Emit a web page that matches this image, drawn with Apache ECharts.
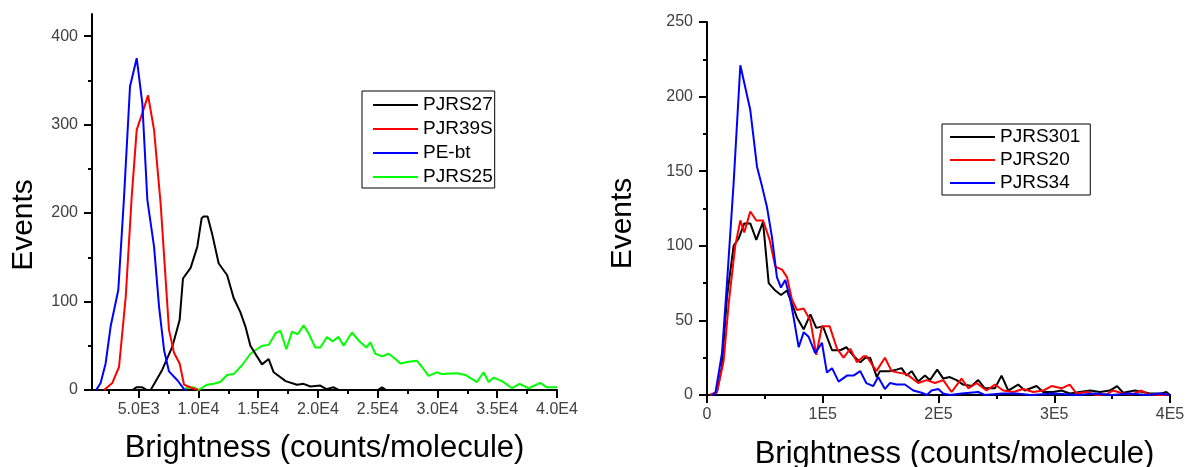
<!DOCTYPE html>
<html>
<head>
<meta charset="utf-8">
<script src="https://cdn.jsdelivr.net/npm/echarts@6/dist/echarts.min.js"></script>
<style>
html, body { margin: 0; padding: 0; background: #fff; }
#chart { width: 1186px; height: 467px; }
</style>
</head>
<body>
<div id="chart"></div>
<script>
// left panel: [brightness, events]
const pjrs27 = [[3600,0],[4500,0],[4800,3],[5300,3],[5700,0],[6010,0],[6980,23],[7820,49],[8430,79],[8710,126],[9350,138],[9910,162],[10270,194],[10440,196],[10770,196],[11140,177],[11700,143],[12400,130],[12950,104],[13510,88],[13930,72],[14350,50],[14900,38],[15320,29],[15880,35],[16300,20],[17300,10],[18250,6],[18800,7],[19370,4],[20200,5],[20700,1],[21310,3],[21730,0],[25000,0],[25360,3],[25700,0]];
const pjr39s = [[2100,0],[2800,8],[3360,26],[3920,105],[4420,218],[4840,294],[5310,313],[5790,333],[6290,294],[6840,211],[7540,68],[7960,42],[8430,30],[8800,6],[9500,2],[10000,0]];
const peBt = [[1450,0],[1820,8],[2240,30],[2660,72],[3300,113],[3780,218],[4280,343],[4840,375],[5310,324],[5730,215],[6290,162],[6710,94],[7130,45],[7540,21],[8240,11],[8800,1],[9000,0]];
const pjrs25 = [[8900,2],[9600,3],[10020,0],[10720,6],[11280,7],[11840,9],[12400,17],[12950,18],[13650,28],[14350,41],[15320,50],[15880,51],[16440,64],[16860,67],[17360,46],[17830,66],[18300,63],[18810,73],[19220,64],[19780,48],[20200,48],[20760,60],[21230,55],[21730,60],[22150,50],[22850,65],[23400,56],[24050,48],[24380,54],[24800,41],[25360,38],[25920,41],[26480,35],[26890,30],[27590,32],[28290,33],[28710,26],[29260,16],[29960,20],[30380,18],[31640,19],[32330,17],[33310,9],[33860,20],[34280,9],[34700,14],[35400,10],[36240,2],[36870,7],[37630,2],[38600,8],[39160,3],[40000,3]];

// right panel
const pjrs301 = [[2900,0],[8600,2],[12900,19],[17300,66],[23000,100],[27400,105],[32200,115],[37400,115],[42600,104],[48400,116],[53300,75],[59000,70],[63900,67],[69100,70],[73400,61],[77700,52],[83500,44],[89300,54],[94400,45],[100200,46],[108000,30],[115200,30],[120400,32],[126800,26],[132500,22],[136800,25],[140900,25],[146700,12],[149400,16],[158000,16],[163800,17],[168100,18],[172500,13],[176800,16],[182500,9],[188300,13],[192600,10],[198900,17],[204100,11],[209800,12],[215600,10],[221300,7],[228500,6],[234300,10],[240000,4.5],[248700,4.5],[254500,13],[260200,3],[268800,7],[274600,3],[284700,6],[290400,2],[299000,2],[306300,3],[313400,1],[322100,2],[330800,3],[339400,2],[348000,3],[354300,6],[359500,1.5],[369600,3],[376800,2],[382500,1],[392600,1],[396900,2],[400000,0]];
const pjrs20 = [[2900,0],[8600,2],[14400,23],[18700,61],[24400,100],[28800,117],[32200,109],[37400,123],[42600,117],[48400,117],[54100,104],[59000,86],[64800,84],[69100,79],[73400,64],[77700,57],[83500,58],[89300,50],[94400,27],[99300,46],[106000,46],[112300,31],[118000,25],[123800,31],[129500,22],[135300,26],[137800,26],[146400,16],[153700,25],[159500,16],[165200,15],[172500,14],[182500,8],[189700,10],[196900,8],[204100,10],[211300,2],[219900,11],[225700,4.5],[232900,8],[241500,3],[248700,7],[255900,3],[264500,2],[273200,4],[281800,2],[290400,3],[297700,6],[306300,4.5],[313400,7],[319200,1],[327800,2],[336400,0],[345100,0.5],[350800,3],[359500,1],[368100,0.5],[375300,3],[381000,0.5],[391100,0],[400000,0]];
const pjrs34 = [[4300,0],[7200,1],[12950,28],[17270,75],[23000,142],[28800,221],[37400,191],[43200,153],[47500,140],[51800,126],[56100,106],[60400,79],[63900,72],[67600,77],[72000,64],[74800,52],[79200,32],[83500,42],[87800,39],[93500,28],[99300,35],[103600,15],[108000,18],[113700,9],[120900,13],[126600,13],[132400,16],[137600,8],[143600,6],[147900,12],[153700,4],[158000,8],[163800,7],[171000,7],[178200,3],[185400,1.5],[190000,0],[194000,3],[199800,4],[204000,1],[210000,0],[220000,1],[234300,2],[240000,0],[255000,1],[267000,1],[280000,0],[300000,1],[320000,0],[335000,1],[350000,0],[365000,1],[380000,0],[392000,1],[400000,0]];

// ticks
const leftXTicks = [5000,10000,15000,20000,25000,30000,35000,40000];
const leftXLabels = ['5.0E3','1.0E4','1.5E4','2.0E4','2.5E4','3.0E4','3.5E4','4.0E4'];
const leftXMinor = [2500,7500,12500,17500,22500,27500,32500,37500];
const leftYTicks = [0,100,200,300,400];
const leftYMinor = [50,150,250,350];
const rightXTicks = [0,100000,200000,300000,400000];
const rightXLabels = ['0','1E5','2E5','3E5','4E5'];
const rightXMinor = [50000,150000,250000,350000];
const rightYTicks = [0,50,100,150,200,250];
const rightYMinor = [25,75,125,175,225];

const font = 'Arial, "Liberation Sans", sans-serif';
const black = { color: '#000', width: 2 };

function mainAxis(dim, grid, min, max, ticks, labels, name, nameGap, namePad) {
  return {
    type: 'value', gridIndex: grid, position: dim === 'x' ? 'bottom' : 'left',
    min: min, max: max,
    axisLine: { show: true, onZero: false, lineStyle: black },
    axisTick: { show: true, customValues: ticks, length: 8, lineStyle: black },
    axisLabel: {
      customValues: ticks, margin: dim === 'x' ? 12 : 14, color: '#404040',
      fontSize: 16, fontFamily: font,
      formatter: v => labels ? labels[ticks.findIndex(t => Math.abs(t - v) < 1e-6)] : String(v)
    },
    splitLine: { show: false },
    name: name, nameLocation: 'middle', nameGap: nameGap, nameMoveOverlap: false,
    nameTextStyle: { fontSize: dim === 'x' ? 31 : 30, color: '#000', fontFamily: font, padding: namePad }
  };
}

function minorAxis(dim, grid, min, max, ticks) {
  return {
    type: 'value', gridIndex: grid, position: dim === 'x' ? 'bottom' : 'left',
    min: min, max: max,
    axisLine: { show: false },
    axisTick: { show: true, customValues: ticks, length: 4, lineStyle: black },
    axisLabel: { show: false },
    splitLine: { show: false }
  };
}

function line(name, data, color, axis) {
  return {
    name: name, type: 'line', data: data, xAxisIndex: axis, yAxisIndex: axis,
    symbol: 'none', showSymbol: false, lineStyle: { color: color, width: 2 },
    itemStyle: { color: color }, animation: false
  };
}

function legend(names, left, top, padding, gap) {
  return {
    data: names, orient: 'vertical', left: left, top: top, padding: padding,
    itemGap: gap, itemWidth: 45, itemHeight: 2, icon: 'rect',
    borderColor: '#000', borderWidth: 1, backgroundColor: '#fff',
    selectedMode: false,
    textStyle: { fontSize: 19, color: '#000', fontFamily: font, lineHeight: 20, padding: [0, 0, 0, 0] }
  };
}

const chart = echarts.init(document.getElementById('chart'));
chart.setOption({
  animation: false,
  backgroundColor: '#fff',
  grid: [
    { left: 92, top: 14, width: 465, height: 376, containLabel: false, outerBoundsMode: 'none' },
    { left: 707, top: 22, width: 463, height: 373, containLabel: false, outerBoundsMode: 'none' }
  ],
  xAxis: [
    mainAxis('x', 0, 1100, 40000, leftXTicks, leftXLabels, 'Brightness (counts/molecule)', 43, [0, 0, 0, 0]),
    minorAxis('x', 0, 1100, 40000, leftXMinor),
    mainAxis('x', 1, 0, 400000, rightXTicks, rightXLabels, 'Brightness (counts/molecule)', 44, [0, 0, 0, 32]),
    minorAxis('x', 1, 0, 400000, rightXMinor)
  ],
  yAxis: [
    mainAxis('y', 0, 0, 425, leftYTicks, null, 'Events', 53, [0, 46, 0, 0]),
    minorAxis('y', 0, 0, 425, leftYMinor),
    mainAxis('y', 1, 0, 250, rightYTicks, null, 'Events', 69, [0, 30, 0, 0]),
    minorAxis('y', 1, 0, 250, rightYMinor)
  ],
  legend: [
    legend(['PJRS27', 'PJR39S', 'PE-bt', 'PJRS25'], 362, 91, [4, 2, 1, 11], 4),
    legend(['PJRS301', 'PJRS20', 'PJRS34'], 942, 124, [3, 10, 2, 8], 3)
  ],
  series: [
    line('PJRS25', pjrs25, '#00ff00', 0),
    line('PJRS27', pjrs27, '#000000', 0),
    line('PJR39S', pjr39s, '#ff0000', 0),
    line('PE-bt', peBt, '#0000ff', 0),
    line('PJRS301', pjrs301, '#000000', 2),
    line('PJRS20', pjrs20, '#ff0000', 2),
    line('PJRS34', pjrs34, '#0000ff', 2)
  ]
});
</script>
</body>
</html>
